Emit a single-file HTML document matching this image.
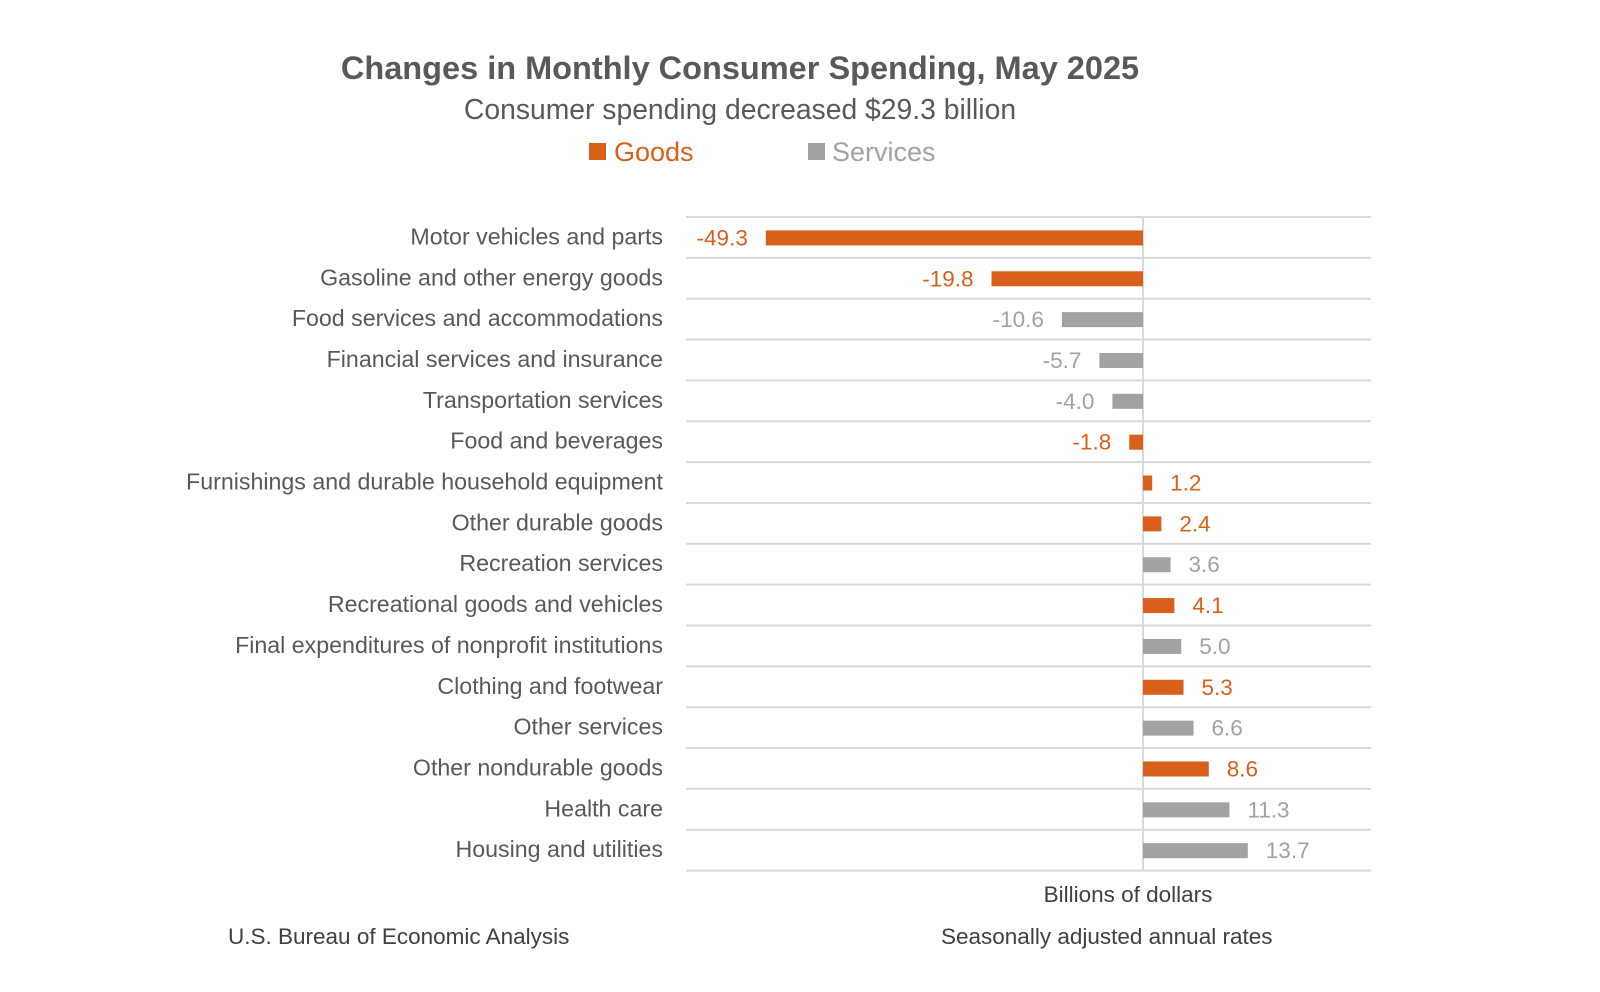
<!DOCTYPE html>
<html><head><meta charset="utf-8"><style>
body{margin:0;background:#fff;width:1600px;height:987px;overflow:hidden;font-family:"Liberation Sans",sans-serif}
svg text{font-family:"Liberation Sans",sans-serif}
</style></head><body>
<svg id="chart" width="1600" height="987" viewBox="0 0 1600 987" xmlns="http://www.w3.org/2000/svg">
<text x="740" y="79" text-anchor="middle" font-size="32.5" font-weight="bold" fill="#595959">Changes in Monthly Consumer Spending, May 2025</text>
<text x="740" y="119" text-anchor="middle" font-size="28.3" fill="#595959">Consumer spending decreased $29.3 billion</text>
<g>
<rect x="589" y="143" width="17" height="17" fill="#D9601A"/>
<text x="614" y="161" font-size="27" fill="#D9601A">Goods</text>
<rect x="808" y="143" width="17" height="17" fill="#A0A2A4"/>
<text x="832" y="161" font-size="27" fill="#A0A2A4">Services</text>
</g>
<g id="grid"></g><g id="bars"></g>
<text x="1128" y="902" text-anchor="middle" font-size="22.5" fill="#404040">Billions of dollars</text>
<text x="228" y="944" font-size="22.5" fill="#404040">U.S. Bureau of Economic Analysis</text>
<text x="941" y="944" font-size="22.5" fill="#404040">Seasonally adjusted annual rates</text>
</svg>
<script>
const categories=["Motor vehicles and parts","Gasoline and other energy goods","Food services and accommodations","Financial services and insurance","Transportation services","Food and beverages","Furnishings and durable household equipment","Other durable goods","Recreation services","Recreational goods and vehicles","Final expenditures of nonprofit institutions","Clothing and footwear","Other services","Other nondurable goods","Health care","Housing and utilities"];
const values=[-49.3,-19.8,-10.6,-5.7,-4.0,-1.8,1.2,2.4,3.6,4.1,5.0,5.3,6.6,8.6,11.3,13.7];
const types=["goods","goods","services","services","services","goods","goods","goods","services","goods","services","goods","services","goods","services","services"];
const NS="http://www.w3.org/2000/svg";
const top0=217,rowH=40.85,x0=1143,pxPer=7.65,gl=686,gr=1371;
const xs=v=>x0+v*pxPer;
const color={goods:"#D9601A",services:"#A0A2A4"};
const grid=document.getElementById('grid'),bars=document.getElementById('bars');
function mk(t,a,p){const e=document.createElementNS(NS,t);for(const k in a)e.setAttribute(k,a[k]);p.appendChild(e);return e;}
for(let i=0;i<=categories.length;i++){
 const l=mk('line',{x1:gl,x2:gr,y1:top0+i*rowH,y2:top0+i*rowH,stroke:"#D9D9D9","stroke-width":2},grid);
 
 
}
const zl=mk('line',{x1:xs(0),x2:xs(0),y1:top0,y2:top0+categories.length*rowH,stroke:"#D9D9D9","stroke-width":2},grid);


categories.forEach((c,i)=>{
 const cy=top0+(i+0.5)*rowH,v=values[i],col=color[types[i]];
 const lab=mk('text',{x:663,y:cy+7,"text-anchor":"end","font-size":23.2,fill:"#595959"},bars);
 lab.textContent=c;
 
 
 const r=mk('rect',{x:Math.min(xs(0),xs(v)),y:cy-7,width:Math.abs(xs(v)-xs(0)),height:15,fill:col},bars);
 
 
 const t=mk('text',{x:v<0?xs(v)-18:xs(v)+18,y:cy+8,"text-anchor":v<0?"end":"start","font-size":22.5,fill:col},bars);
 t.textContent=v.toFixed(1);
 
 
});
</script>
</body></html>
